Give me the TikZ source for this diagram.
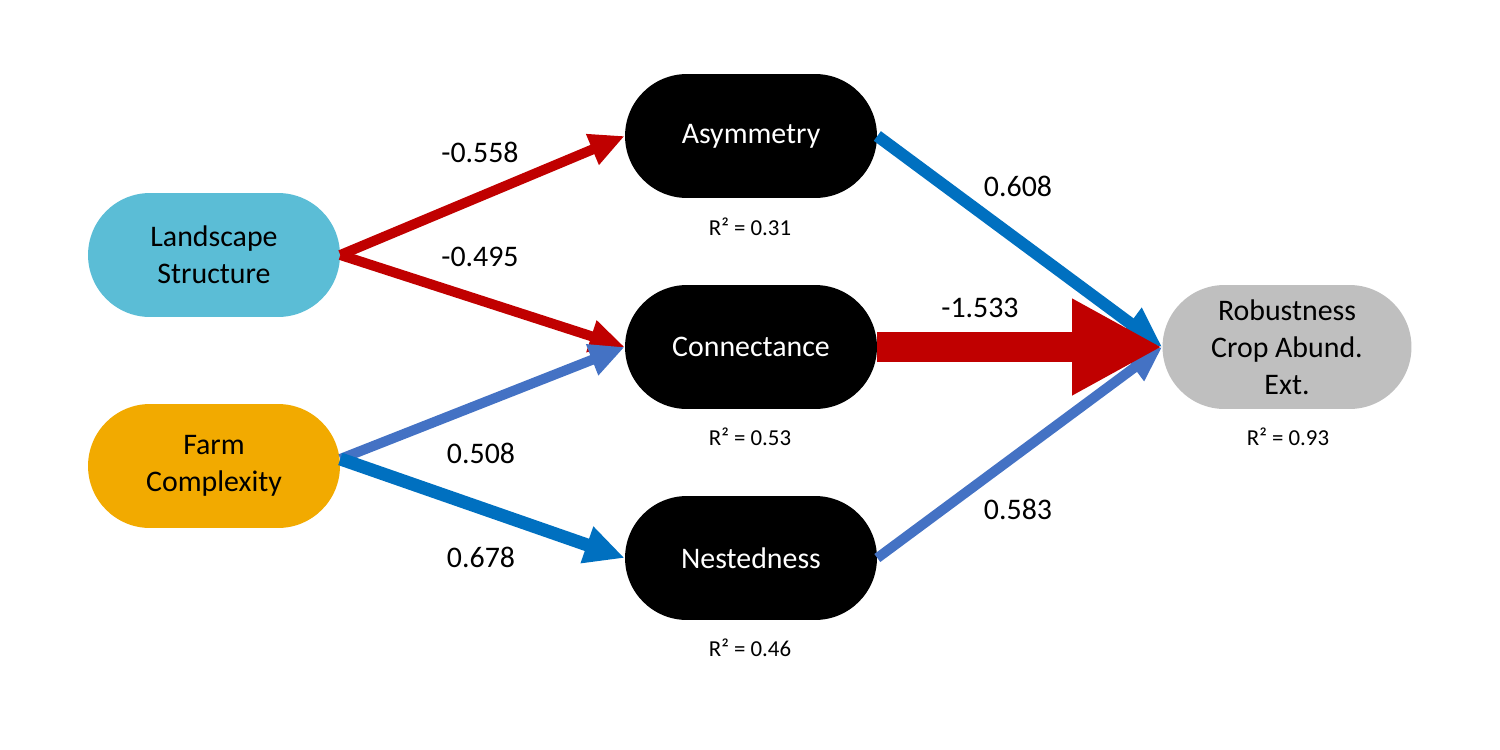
\documentclass[tikz,border=0pt]{standalone}
\usepackage{fontspec}
\setmainfont{Carlito}
\usetikzlibrary{arrows.meta}
\definecolor{cred}{HTML}{C00000}
\definecolor{cblueA}{HTML}{0070C0}
\definecolor{cblueB}{HTML}{4472C4}
\definecolor{clight}{HTML}{5BBDD6}
\definecolor{corange}{HTML}{F2AA00}
\definecolor{cgray}{HTML}{BFBFBF}
\tikzset{
  pill/.style={rectangle, rounded corners=1.24cm, minimum width=5.04cm, minimum height=2.48cm,
    inner sep=0pt, align=center, font=\fontsize{17}{21}\selectfont},
  blackpill/.style={pill, fill=black, text=white},
  coef/.style={font=\fontsize{17}{21}\selectfont, inner sep=0pt},
  rsq/.style={font=\fontsize{13}{16}\selectfont, inner sep=0pt},
  thinarrow/.style={line width=0.2cm, -{Triangle[length=0.7cm,width=0.62cm]}},
  medarrow/.style={line width=0.26cm, -{Triangle[length=0.8cm,width=0.72cm]}},
}
\begin{document}
\begin{tikzpicture}[x=0.02cm,y=-0.02cm]
\useasboundingbox (0,0) rectangle (1500,750);
\node[pill, fill=clight] (ls) at (214,255) {Landscape\\Structure};
\node[pill, fill=corange] (fc) at (214,466) {Farm\\Complexity};
\node[blackpill] (asy) at (751,136) {Asymmetry};
\node[blackpill] (con) at (751,347) {Connectance};
\node[blackpill] (nes) at (751,558) {Nestedness};
\node[pill, fill=cgray, minimum width=4.98cm] (rob) at (1287,347) {Robustness\\Crop Abund.\\Ext.};
\node[rsq] (r1) at (750,227) {R² = 0.31};
\node[rsq] (r2) at (750,437) {R² = 0.53};
\node[rsq] (r3) at (750,648) {R² = 0.46};
\node[rsq] (r4) at (1288,437) {R² = 0.93};
% arrows
\draw[thinarrow, cred] (ls.east) -- (asy.west);
\draw[thinarrow, cred] (ls.east) -- (con.west);
\draw[thinarrow, cblueB] ([yshift=4pt]fc.east) -- (con.west);
\draw[medarrow, cblueA] ([yshift=4pt]fc.east) -- (nes.west);
\draw[medarrow, line width=0.24cm, cblueA] (asy.east) -- (rob.west);
\draw[thinarrow, cblueB] (nes.east) -- (rob.west);
\draw[cred, line width=0.6cm, -{Triangle[length=1.8cm,width=1.8cm]}] (con.east) -- (rob.west);
% labels
\node[coef] (l1) at (480,152) {-0.558};
\node[coef] (l2) at (480,257) {-0.495};
\node[coef] (l3) at (481,453) {0.508};
\node[coef] (l4) at (481,557) {0.678};
\node[coef] (l5) at (1018,186) {0.608};
\node[coef] (l6) at (980,308) {-1.533};
\node[coef] (l7) at (1018,509) {0.583};
\end{tikzpicture}
\end{document}
